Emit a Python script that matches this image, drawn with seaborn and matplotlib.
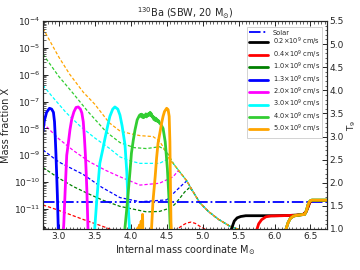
import numpy as np
import pandas as pd
import matplotlib
matplotlib.use("Agg")
import matplotlib.pyplot as plt
import seaborn as sns
from matplotlib.ticker import AutoMinorLocator, LogLocator, NullFormatter, MultipleLocator

# ---------------- data ----------------
VELOCITY_LABELS = ["0.2", "0.4", "1.0", "1.3", "2.0", "3.0", "4.0", "5.0"]
COLORS = ["black", "red", "green", "blue", "magenta", "cyan", "limegreen", "orange"]
SOLAR_X = 1.85e-11
M_RANGE = [2.78, 6.73]

# solid lines: log10 mass fraction
x_m_02 = [5.36, 5.40, 5.44, 5.48, 5.53, 5.60, 5.80, 6.00, 6.20, 6.30, 6.40, 6.44, 6.47, 6.49, 6.52, 6.73]
x_l_02 = [-12.5, -11.75, -11.45, -11.33, -11.28, -11.25, -11.25, -11.25, -11.24, -11.23, -11.20, -11.10, -10.90, -10.75, -10.68, -10.68]
x_m_04 = [5.72, 5.75, 5.78, 5.82, 5.88, 5.95, 6.10, 6.30, 6.40, 6.44, 6.47, 6.49, 6.52, 6.73]
x_l_04 = [-12.5, -11.8, -11.55, -11.40, -11.29, -11.26, -11.25, -11.23, -11.20, -11.10, -10.90, -10.75, -10.68, -10.68]
x_m_10 = [6.12, 6.16, 6.19, 6.22, 6.26, 6.30, 6.36, 6.42, 6.445, 6.465, 6.48, 6.50, 6.52, 6.73]
x_l_10 = [-12.5, -11.75, -11.5, -11.35, -11.27, -11.24, -11.22, -11.20, -11.05, -10.85, -10.75, -10.69, -10.67, -10.67]
x_m_13 = [2.78, 2.80, 2.83, 2.87, 2.90, 2.925, 2.94, 2.95, 2.96, 2.97, 2.98, 2.99, 3.00]
x_l_13 = [-8.1, -7.7, -7.4, -7.25, -7.28, -7.4, -7.75, -8.3, -8.95, -9.7, -10.5, -11.5, -12.5]
x_m_20 = [3.05, 3.07, 3.09, 3.11, 3.13, 3.155, 3.18, 3.21, 3.24, 3.27, 3.30, 3.32, 3.34, 3.355, 3.37, 3.38, 3.39, 3.40, 3.41]
x_l_20 = [-12.5, -11.5, -10.2, -9.0, -8.6, -8.05, -7.65, -7.38, -7.22, -7.2, -7.28, -7.42, -7.75, -8.3, -9.0, -9.6, -10.3, -11.2, -12.2]
x_m_30 = [3.48, 3.50, 3.53, 3.57, 3.61, 3.64, 3.68, 3.71, 3.75, 3.78, 3.82, 3.85, 3.88, 3.92, 3.945, 3.965, 3.98, 3.995]
x_l_30 = [-12.5, -11.7, -10.6, -9.3, -8.8, -8.4, -7.9, -7.55, -7.28, -7.2, -7.28, -7.5, -7.9, -8.6, -9.6, -10.9, -11.6, -12.5]
x_m_40 = [3.90, 3.92, 3.945, 3.965, 3.99, 4.01, 4.035, 4.06, 4.09, 4.12, 4.13, 4.14, 4.15, 4.16, 4.17,
          4.18, 4.19, 4.20, 4.21, 4.22, 4.23, 4.24, 4.25, 4.26, 4.27, 4.28, 4.29, 4.30, 4.31, 4.32,
          4.33, 4.34, 4.35, 4.36, 4.37, 4.38, 4.39, 4.40, 4.42, 4.45, 4.48, 4.51, 4.54, 4.56,
          6.12, 6.16, 6.19, 6.22, 6.26, 6.30, 6.36, 6.42, 6.445, 6.465, 6.48, 6.50, 6.52, 6.73]
x_l_40 = [-12.5, -11.7, -11.0, -10.4, -9.6, -8.92, -8.45, -8.05, -7.68, -7.52, -7.49, -7.55, -7.47, -7.58, -7.50,
          -7.60, -7.52, -7.56, -7.46, -7.57, -7.48, -7.53, -7.44, -7.50, -7.40, -7.52, -7.46, -7.58, -7.55, -7.66,
          -7.60, -7.70, -7.62, -7.72, -7.68, -7.75, -7.72, -7.80, -7.85, -8.0, -8.5, -9.5, -11.0, -12.5,
          -12.5, -11.75, -11.5, -11.35, -11.27, -11.24, -11.22, -11.20, -11.05, -10.85, -10.75, -10.69, -10.67, -10.67]
x_m_50 = [4.09, 4.10, 4.11, 4.12, 4.135, 4.145, 4.155, 4.165, 4.172, 4.18,
          4.27, 4.29, 4.31, 4.34, 4.36, 4.38, 4.41, 4.43, 4.45, 4.47, 4.50, 4.52, 4.535, 4.545, 4.55, 4.56, 4.58,
          6.12, 6.16, 6.19, 6.22, 6.26, 6.30, 6.36, 6.42, 6.445, 6.465, 6.48, 6.50, 6.52, 6.73]
x_l_50 = [-12.5, -11.7, -12.5, -11.6, -12.5, -11.45, -12.2, -11.2, -12.5, -12.5,
          -12.5, -11.7, -10.7, -9.8, -9.1, -8.55, -8.1, -7.8, -7.55, -7.37, -7.25, -7.3, -7.55, -8.5, -9.6, -11.5, -12.5,
          -12.5, -11.75, -11.5, -11.35, -11.27, -11.24, -11.22, -11.20, -11.05, -10.85, -10.75, -10.69, -10.67, -10.67]

# dashed lines: peak temperature T9 (right axis)
conv_m = [4.54, 4.60, 4.66, 4.72, 4.78, 4.87, 4.96, 5.08, 5.22, 5.38, 5.49, 5.60]
conv_t = [2.50, 2.40, 2.28, 2.16, 2.04, 1.80, 1.57, 1.38, 1.21, 1.06, 1.00, 0.95]

t_m_02 = [2.78, 2.84, 2.90]
t_v_02 = [1.06, 1.00, 0.95]
t_m_04 = [2.78, 2.95, 3.11, 3.35, 3.57, 3.71, 3.90, 4.30, 4.60, 4.66, 4.72, 4.78, 4.84, 4.90, 4.96, 5.03, 5.10]
t_v_04 = [1.52, 1.43, 1.34, 1.20, 1.08, 1.00, 0.93, 0.88, 0.96, 1.01, 1.08, 1.13, 1.15, 1.12, 1.06, 1.00, 0.95]
t_m_10 = [2.78, 3.0, 3.2, 3.4, 3.6, 3.85, 4.22, 4.40, 4.54, 4.61, 4.68, 4.75, 4.82] + conv_m[5:]
t_v_10 = [2.33, 2.10, 1.92, 1.77, 1.63, 1.49, 1.37, 1.38, 1.45, 1.53, 1.66, 1.80, 1.90] + conv_t[5:]
t_m_13 = [2.78, 3.0, 3.34, 3.6, 3.85, 4.13, 4.50, 4.64, 4.72] + conv_m[4:]
t_v_13 = [2.71, 2.45, 2.18, 1.90, 1.68, 1.59, 1.63, 1.84, 1.96] + conv_t[4:]
t_m_20 = [2.78, 3.0, 3.2, 3.43, 3.65, 3.85, 4.13, 4.40, 4.59, 4.66] + conv_m[3:]
t_v_20 = [3.29, 2.95, 2.70, 2.45, 2.27, 2.13, 1.95, 1.99, 2.13, 2.26] + conv_t[3:]
t_m_30 = [2.78, 2.9, 3.1, 3.3, 3.5, 3.7, 3.85, 4.0, 4.13, 4.40, 4.50] + conv_m[0:]
t_v_30 = [4.11, 3.88, 3.52, 3.22, 2.97, 2.75, 2.56, 2.47, 2.42, 2.42, 2.50] + conv_t[0:]
t_m_40 = [2.78, 3.0, 3.18, 3.4, 3.66, 3.85, 4.05, 4.22, 4.40, 4.47, 4.52] + conv_m[1:]
t_v_40 = [4.78, 4.30, 3.97, 3.55, 3.10, 2.87, 2.76, 2.74, 2.78, 2.72, 2.62] + conv_t[1:]
t_m_50 = [2.78, 2.9, 3.0, 3.15, 3.34, 3.5, 3.7, 3.85, 4.0, 4.13, 4.31, 4.40, 4.45] + conv_m[0:]
t_v_50 = [5.34, 5.00, 4.72, 4.35, 3.96, 3.70, 3.30, 3.12, 3.06, 3.02, 3.00, 2.90, 2.78] + conv_t[0:]

SOLID_M = [x_m_02, x_m_04, x_m_10, x_m_13, x_m_20, x_m_30, x_m_40, x_m_50]
SOLID_L = [x_l_02, x_l_04, x_l_10, x_l_13, x_l_20, x_l_30, x_l_40, x_l_50]
DASH_M = [t_m_02, t_m_04, t_m_10, t_m_13, t_m_20, t_m_30, t_m_40, t_m_50]
DASH_T = [t_v_02, t_v_04, t_v_10, t_v_13, t_v_20, t_v_30, t_v_40, t_v_50]

# ---------------- figure ----------------
sns.set_style("ticks", {"xtick.direction": "in", "ytick.direction": "in"})
plt.rcParams["font.family"] = ["DejaVu Sans"]
plt.rcParams["mathtext.default"] = "regular"

fig = plt.figure(figsize=(3.6, 2.7), dpi=100)
ax = fig.add_axes([43 / 360, 1 - 229 / 270, 284 / 360, 208 / 270])
ax2 = ax.twinx()

# dashed temperature profiles (right axis)
for m, t, c in zip(DASH_M, DASH_T, COLORS):
    df = pd.DataFrame({"M": m, "T9": t})
    sns.lineplot(data=df, x="M", y="T9", ax=ax2, color=c, lw=0.9, ls=(0, (2.6, 1.6)),
                 sort=False, estimator=None)

# solar line + solid abundance profiles (left axis)
handles = []
df_sol = pd.DataFrame({"M": M_RANGE, "X": [SOLAR_X, SOLAR_X]})
sns.lineplot(data=df_sol, x="M", y="X", ax=ax, color="blue", lw=1.3, ls="-.",
             sort=False, estimator=None)
handles.append(ax.lines[-1])
ax.lines[-1].set_label("Solar")
for m, l, c, v in zip(SOLID_M, SOLID_L, COLORS, VELOCITY_LABELS):
    df = pd.DataFrame({"M": m, "X": 10.0 ** np.array(l)})
    sns.lineplot(data=df, x="M", y="X", ax=ax, color=c, lw=2.0, sort=False, estimator=None)
    ax.lines[-1].set_label(f"{v}$\\times$10$^9$ cm/s")
    handles.append(ax.lines[-1])

# left axis (solar + solids) on top of the dashed profiles
ax.set_zorder(ax2.get_zorder() + 1)
ax.patch.set_visible(False)

ax.set_yscale("log")
ax.set_ylim(1.8e-12, 1e-4)
ax.set_xlim(*M_RANGE)
ax2.set_ylim(1.0, 5.5)

ax.yaxis.set_major_locator(LogLocator(base=10, numticks=20))
ax.yaxis.set_minor_locator(LogLocator(base=10, subs=np.arange(2, 10), numticks=20))
ax.yaxis.set_minor_formatter(NullFormatter())
ax.xaxis.set_major_locator(MultipleLocator(0.5))
ax.xaxis.set_minor_locator(MultipleLocator(0.05))
ax.xaxis.set_major_formatter(matplotlib.ticker.FormatStrFormatter("%.1f"))
ax2.yaxis.set_major_locator(MultipleLocator(0.5))
ax2.yaxis.set_minor_locator(MultipleLocator(0.1))

for a in (ax, ax2):
    a.tick_params(which="major", direction="in", length=3.5, width=0.7, labelsize=6.5, pad=2)
    a.tick_params(which="minor", direction="in", length=1.8, width=0.5)
    for s in a.spines.values():
        s.set_linewidth(0.8)
ax.tick_params(top=True, which="both")

ax.set_xlabel("Internal mass coordinate M$_{\\odot}$", fontsize=7, labelpad=2)
ax.set_ylabel("Mass fraction X", fontsize=7, labelpad=2)
ax2.set_ylabel("T$_9$", fontsize=6.5, labelpad=1)
ax.set_title("$^{130}$Ba (SBW, 20 M$_{\\odot}$)", fontsize=7, pad=3)

leg = ax.legend(handles=handles, loc="upper right", bbox_to_anchor=(0.995, 0.985),
                fontsize=4.8, handlelength=2.8, labelspacing=0.02, borderpad=0.35,
                handletextpad=0.7, fancybox=False, framealpha=1, edgecolor="0.8")
leg.get_frame().set_linewidth(0.6)

fig.savefig("out.png", dpi=100)
